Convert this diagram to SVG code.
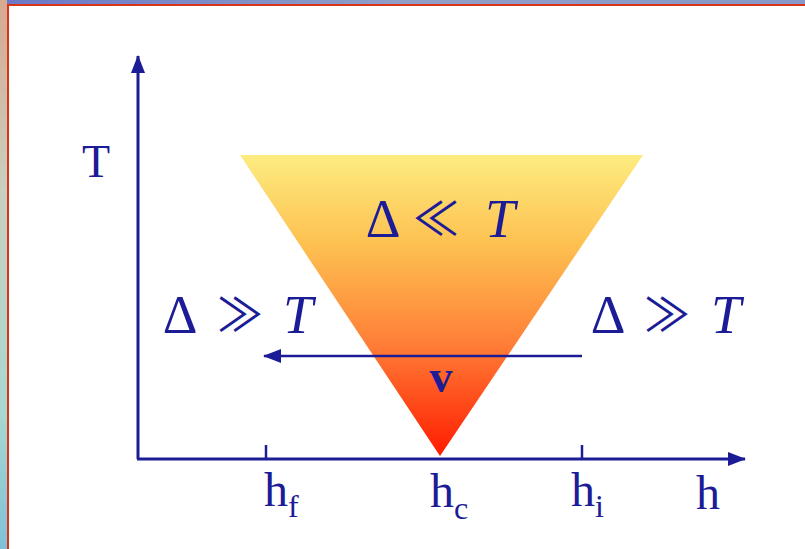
<svg xmlns="http://www.w3.org/2000/svg" width="805" height="549" viewBox="0 0 805 549">
<style>
.lbl{font-family:"Liberation Serif","DejaVu Serif",serif;fill:#1c1c96}
.rel{font-family:"Noto Sans CJK JP","DejaVu Sans",sans-serif;font-weight:400;fill:#1c1c96}
.ax{stroke:#1c1c96;stroke-width:3;fill:none}
.ln{stroke:#1c1c96;stroke-width:2.5;fill:none}
</style>
<defs>
<linearGradient id="tri" x1="0" y1="155" x2="0" y2="456" gradientUnits="userSpaceOnUse">
<stop offset="0" stop-color="#fdec80"/>
<stop offset="0.3" stop-color="#fdc050"/>
<stop offset="0.62" stop-color="#ff8038"/>
<stop offset="1" stop-color="#ff1c00"/>
</linearGradient>
<linearGradient id="topbar" x1="0" y1="0" x2="1" y2="0">
<stop offset="0" stop-color="#6a78c8"/>
<stop offset="0.5" stop-color="#90a0c8"/>
<stop offset="1" stop-color="#8898c8"/>
</linearGradient>
<linearGradient id="leftbar" x1="0" y1="0" x2="0" y2="1">
<stop offset="0" stop-color="#d8a890"/>
<stop offset="0.35" stop-color="#c8d0c0"/>
<stop offset="0.75" stop-color="#a8d8d0"/>
<stop offset="1" stop-color="#80c0d8"/>
</linearGradient>
<marker id="ah" viewBox="0 0 18 14" refX="17" refY="7" markerWidth="18" markerHeight="14" markerUnits="userSpaceOnUse" orient="auto">
<path d="M0,0 L18,7 L0,14 Z" fill="#1c1c96"/>
</marker>
</defs>
<g id="frame">
<rect x="0" y="0" width="805" height="549" fill="#ffffff"/>
<rect x="0" y="0" width="805" height="4" fill="url(#topbar)"/>
<rect x="0" y="0" width="7" height="549" fill="url(#leftbar)"/>
<rect x="7" y="4" width="798" height="2" fill="#d8341a"/>
<rect x="7" y="4" width="2" height="545" fill="#d8341a"/>
</g>
<g id="region">
<polygon points="240,155 643,155 440,456" fill="url(#tri)"/>
</g>
<g id="connectors">
<path class="ax" d="M138,459 L138,56" marker-end="url(#ah)"/>
<path class="ax" d="M137,459 L745,459" marker-end="url(#ah)"/>
<path class="ln" d="M266,445 L266,459"/>
<path class="ln" d="M582,445 L582,459"/>
<path class="ln" d="M582,356 L264,356" marker-end="url(#ah)"/>
</g>
<g id="labels">
<text class="lbl" x="96" y="177" font-size="46" text-anchor="middle">T</text>
<text class="lbl" x="441" y="392" font-size="46" font-weight="bold" text-anchor="middle">v</text>
<g id="weak-left">
<text class="lbl" x="180" y="333" font-size="54" text-anchor="middle">Δ</text>
<text class="rel" x="240" y="331" font-size="46" text-anchor="middle">≫</text>
<text class="lbl" x="298" y="333" font-size="54" font-style="italic" text-anchor="middle">T</text>
</g>
<g id="weak-right">
<text class="lbl" x="608" y="333" font-size="54" text-anchor="middle">Δ</text>
<text class="rel" x="667" y="331" font-size="46" text-anchor="middle">≫</text>
<text class="lbl" x="726" y="333" font-size="54" font-style="italic" text-anchor="middle">T</text>
</g>
<g id="strong">
<text class="lbl" x="383" y="237" font-size="54" text-anchor="middle">Δ</text>
<text class="rel" x="436" y="235" font-size="46" text-anchor="middle">≪</text>
<text class="lbl" x="500" y="237" font-size="54" font-style="italic" text-anchor="middle">T</text>
</g>
<text class="lbl" x="264" y="506" font-size="48">h<tspan font-size="32" dy="11">f</tspan></text>
<text class="lbl" x="430" y="507" font-size="48">h<tspan font-size="32" dy="12">c</tspan></text>
<text class="lbl" x="571" y="506" font-size="48">h<tspan font-size="32" dy="11">i</tspan></text>
<text class="lbl" x="696" y="509" font-size="48">h</text>
</g>
</svg>
